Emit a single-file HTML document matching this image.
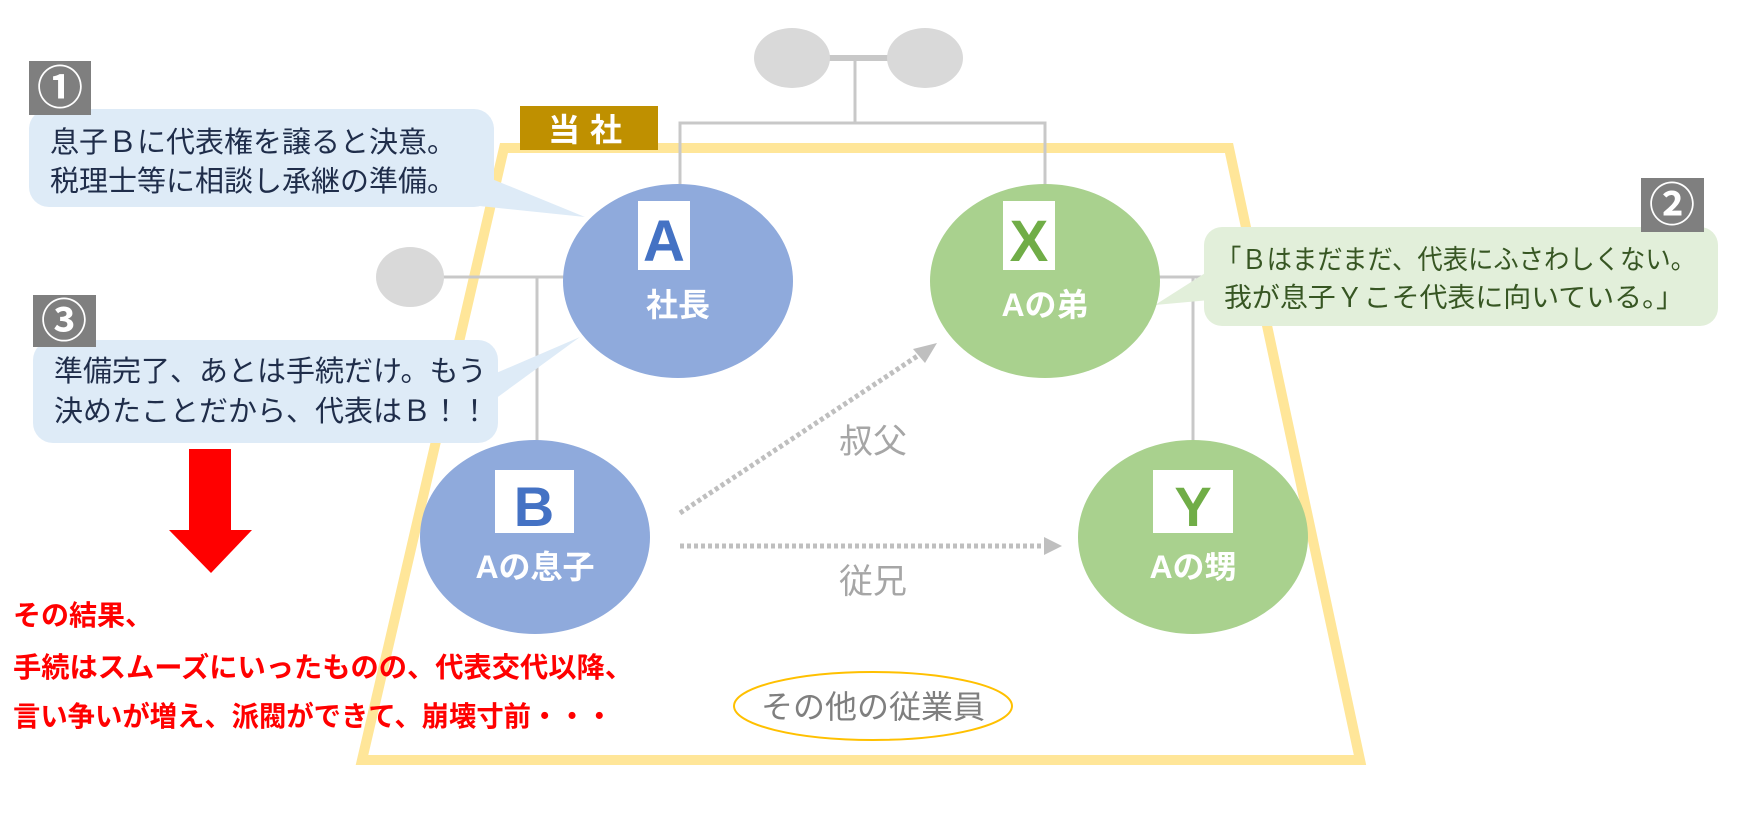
<!DOCTYPE html>
<html><head><meta charset="utf-8"><style>
html,body{margin:0;padding:0;background:#fff;}
svg{display:block;}
text{font-family:"Liberation Sans","Noto Sans CJK JP",sans-serif;}
</style></head><body>
<svg width="1748" height="817" viewBox="0 0 1748 817" xmlns="http://www.w3.org/2000/svg">
<polygon points="504,148 1229,148 1360,760 362,760" fill="none" stroke="#FFE699" stroke-width="10"/>
<g stroke="#C8C8C8" stroke-width="3" fill="none">
<line x1="820" y1="58" x2="900" y2="58" stroke-width="6"/>
<line x1="855" y1="58" x2="855" y2="123"/>
<polyline points="680,186 680,123 1045,123 1045,186"/>
<line x1="440" y1="277" x2="570" y2="277"/>
<line x1="537" y1="277" x2="537" y2="452"/>
<line x1="1150" y1="277" x2="1205" y2="277"/>
<line x1="1193" y1="277" x2="1193" y2="468"/>
</g>
<ellipse cx="792" cy="58" rx="38" ry="30" fill="#D9D9D9"/>
<ellipse cx="925" cy="58" rx="38" ry="30" fill="#D9D9D9"/>
<ellipse cx="410" cy="277" rx="34" ry="30" fill="#D9D9D9"/>
<rect x="520" y="106" width="138" height="44" fill="#BF9000"/>
<text x="590" y="141" text-anchor="middle" font-size="32" font-weight="bold" fill="#fff" letter-spacing="10">当社</text>
<g stroke="#BFBFBF" stroke-width="5" stroke-dasharray="4,3" fill="none">
<line x1="680" y1="513" x2="925" y2="351"/>
<line x1="680" y1="546" x2="1045" y2="546"/>
</g>
<polygon points="937,343 913,349 925,363" fill="#BFBFBF"/>
<polygon points="1062,546 1044,537 1044,555" fill="#BFBFBF"/>
<text x="873" y="453" text-anchor="middle" font-size="34" fill="#A6A6A6">叔父</text>
<text x="873" y="593" text-anchor="middle" font-size="34" fill="#A6A6A6">従兄</text>
<polygon points="470,170 470,205 585,217" fill="#DEEBF7"/>
<polygon points="480,380 480,410 580,337" fill="#DEEBF7"/>
<polygon points="1210,270 1210,300 1155,305" fill="#E2EFDA"/>
<ellipse cx="678" cy="281" rx="115" ry="97" fill="#8FAADC"/>
<rect x="638" y="201" width="52" height="69" fill="#fff"/>
<text x="664" y="261" text-anchor="middle" font-size="58" font-weight="bold" fill="#4472C4">A</text>
<text x="678" y="316" text-anchor="middle" font-size="32" font-weight="bold" fill="#fff">社長</text>
<ellipse cx="1045" cy="281" rx="115" ry="97" fill="#A9D18E"/>
<rect x="1003" y="201" width="52" height="69" fill="#fff"/>
<text x="1029" y="261" text-anchor="middle" font-size="58" font-weight="bold" fill="#70AD47">X</text>
<text x="1045" y="316" text-anchor="middle" font-size="32" font-weight="bold" fill="#fff">Aの弟</text>
<ellipse cx="535" cy="537" rx="115" ry="97" fill="#8FAADC"/>
<rect x="495" y="470" width="79" height="63" fill="#fff"/>
<text x="534" y="526" text-anchor="middle" font-size="56" font-weight="bold" fill="#4472C4">B</text>
<text x="535" y="578" text-anchor="middle" font-size="32" font-weight="bold" fill="#fff">Aの息子</text>
<ellipse cx="1193" cy="537" rx="115" ry="97" fill="#A9D18E"/>
<rect x="1153" y="470" width="80" height="63" fill="#fff"/>
<text x="1193" y="526" text-anchor="middle" font-size="56" font-weight="bold" fill="#70AD47">Y</text>
<text x="1193" y="578" text-anchor="middle" font-size="32" font-weight="bold" fill="#fff">Aの甥</text>
<ellipse cx="873" cy="706" rx="139" ry="34" fill="#fff" stroke="#FFC000" stroke-width="2"/>
<text x="873" y="718" text-anchor="middle" font-size="32" fill="#7F7F7F">その他の従業員</text>
<rect x="29" y="109" width="465" height="98" rx="20" fill="#DEEBF7"/>
<rect x="29" y="61" width="62" height="54" fill="#7F7F7F"/>
<text x="60" y="104" text-anchor="middle" font-size="46" font-weight="bold" fill="#fff">①</text>
<text x="50" y="152" font-size="29" fill="#1F2D4A">息子Ｂに代表権を譲ると決意。</text>
<text x="50" y="191" font-size="29" fill="#1F2D4A">税理士等に相談し承継の準備。</text>
<rect x="33" y="340" width="465" height="103" rx="20" fill="#DEEBF7"/>
<rect x="33" y="295" width="63" height="52" fill="#7F7F7F"/>
<text x="64" y="337" text-anchor="middle" font-size="46" font-weight="bold" fill="#fff">③</text>
<text x="54" y="381" font-size="29" fill="#1F2D4A">準備完了、あとは手続だけ。もう</text>
<text x="54" y="421" font-size="29" fill="#1F2D4A">決めたことだから、代表はＢ！！</text>
<rect x="1204" y="227" width="514" height="99" rx="18" fill="#E2EFDA"/>
<rect x="1641" y="178" width="63" height="54" fill="#7F7F7F"/>
<text x="1672" y="221" text-anchor="middle" font-size="46" font-weight="bold" fill="#fff">②</text>
<text x="1216" y="269" font-size="27" fill="#375623" textLength="480" lengthAdjust="spacingAndGlyphs">「Ｂはまだまだ、代表にふさわしくない。</text>
<text x="1224" y="307" font-size="27" fill="#375623" textLength="460" lengthAdjust="spacingAndGlyphs">我が息子Ｙこそ代表に向いている。」</text>
<rect x="189" y="449" width="42" height="82" fill="#FF0000"/>
<polygon points="169,530 252,530 211,573" fill="#FF0000"/>
<text x="13" y="625" font-size="28" font-weight="bold" fill="#FF0000">その結果、</text>
<text x="13" y="677" font-size="28" font-weight="bold" fill="#FF0000" textLength="620" lengthAdjust="spacingAndGlyphs">手続はスムーズにいったものの、代表交代以降、</text>
<text x="13" y="726" font-size="28" font-weight="bold" fill="#FF0000" textLength="600" lengthAdjust="spacingAndGlyphs">言い争いが増え、派閥ができて、崩壊寸前・・・</text>
</svg>
</body></html>
